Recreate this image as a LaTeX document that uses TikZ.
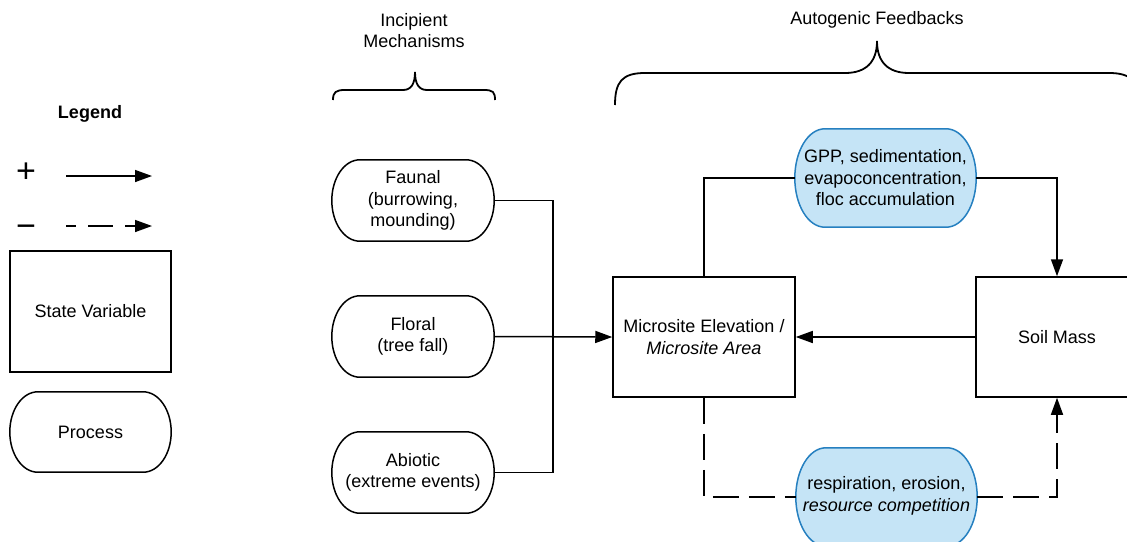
\documentclass[tikz,border=0pt]{standalone}
\usepackage{fontspec}
\setmainfont{Liberation Sans}
\usetikzlibrary{arrows.meta,calc}
\definecolor{procblue}{RGB}{197,228,246}
\definecolor{procedge}{RGB}{38,128,192}
\tikzset{
  txt/.style={font=\fontsize{18}{21.5}\selectfont, align=center, inner sep=0pt},
  statebox/.style={txt, draw, line width=1.5pt},
  procnode/.style={txt},
  conn/.style={line width=1.5pt},
  arr/.style={conn, -{Triangle[length=17pt,width=12pt]}},
  dashline/.style={dash pattern=on 26pt off 10pt},
  bracepath/.style={line width=1.8pt},
  signtxt/.style={txt, font=\fontsize{34}{34}\selectfont},
}
\newcommand\stadium[3]{%
 \draw[#3] ([xshift=#2]#1.north west) -- ([xshift=-#2]#1.north east)
  .. controls ($([xshift=-#2]#1.north east)!0.552!(#1.north east)$) and ($(#1.east)!0.552!(#1.north east)$) .. (#1.east)
  .. controls ($(#1.east)!0.552!(#1.south east)$) and ($([xshift=-#2]#1.south east)!0.552!(#1.south east)$) .. ([xshift=-#2]#1.south east)
  -- ([xshift=#2]#1.south west)
  .. controls ($([xshift=#2]#1.south west)!0.552!(#1.south west)$) and ($(#1.west)!0.552!(#1.south west)$) .. (#1.west)
  .. controls ($(#1.west)!0.552!(#1.north west)$) and ($([xshift=#2]#1.north west)!0.552!(#1.north west)$) .. ([xshift=#2]#1.north west) -- cycle;}
\newcommand\shapeonly[4]{% name, position, width, height
 \node[minimum width=#3, minimum height=#4, inner sep=0pt] (#1) at #2 {};}
\begin{document}
\begin{tikzpicture}[x=1pt,y=-1pt]
\useasboundingbox (0,0) rectangle (1127,541);
\clip (0,0) rectangle (1127,541);

% process outlines first (so text sits on top)
\shapeonly{prS}{(90.5,432)}{161pt}{80pt}
\shapeonly{faunalS}{(413,200.5)}{162pt}{81pt}
\shapeonly{floralS}{(413,336.5)}{162pt}{81pt}
\shapeonly{abioticS}{(413,472.5)}{162pt}{81pt}
\shapeonly{gppS}{(885.5,178)}{181pt}{98pt}
\shapeonly{respS}{(886.5,497)}{181pt}{98pt}
\stadium{prS}{28pt}{conn, fill=white}
\stadium{faunalS}{28pt}{conn, fill=white}
\stadium{floralS}{28pt}{conn, fill=white}
\stadium{abioticS}{28pt}{conn, fill=white}
\stadium{gppS}{30pt}{conn, fill=procblue, draw=procedge}
\stadium{respS}{30pt}{conn, fill=procblue, draw=procedge}

% legend
\node[txt, font=\fontsize{18}{21.5}\selectfont\bfseries] (legend) at (90,114) {Legend};
\node[signtxt] (plus) at (26,173) {+};
\node[signtxt] (minus) at (26,231) {−};
\coordinate (l1a) at (66,176);
\coordinate (l1b) at (152,176);
\coordinate (l2a) at (66,226);
\coordinate (l2b) at (152,226);
\draw[arr] (l1a) -- (l1b);
\draw[arr, dash pattern=on 10pt off 12pt on 25pt off 12pt on 30pt] (l2a) -- (l2b);
\node[statebox, minimum width=161pt, minimum height=121pt] (sv) at (90.5,311.5) {State Variable};
\node[procnode, minimum width=161pt, minimum height=80pt] (pr) at (90.5,432) {Process};

% headings
\node[txt] (inc) at (414,30.5) {Incipient\\Mechanisms};
\node[txt] (auto) at (877,20) {Autogenic Feedbacks};
\draw[bracepath] (333,100) .. controls (333,92) and (336,90) .. (345,90) -- (403,90) .. controls (411,90) and (415,84) .. (415,72) .. controls (415,84) and (419,90) .. (427,90) -- (484,90) .. controls (493,90) and (495,92) .. (495,100);
\draw[bracepath] (615,105) .. controls (615,82) and (622,73) .. (645,73) -- (845,73) .. controls (866,73) and (877,62) .. (877,41) .. controls (877,62) and (888,73) .. (909,73) -- (1109,73) .. controls (1132,73) and (1139,82) .. (1139,105);

% incipient mechanisms
\node[procnode, minimum width=162pt, minimum height=81pt] (faunal) at (413,200.5) {Faunal\\(burrowing,\\mounding)};
\node[procnode, minimum width=162pt, minimum height=81pt] (floral) at (413,336.5) {Floral\\(tree fall)};
\node[procnode, minimum width=162pt, minimum height=81pt] (abiotic) at (413,472.5) {Abiotic\\(extreme events)};

% state variables
\node[statebox, minimum width=182pt, minimum height=120pt] (micro) at (704,337) {Microsite Elevation /\\\itshape Microsite Area};
\node[statebox, minimum width=162pt, minimum height=120pt] (soil) at (1057,337) {Soil Mass};

% feedback processes
\node[procnode, minimum width=181pt, minimum height=98pt] (gpp) at (885.5,178) {GPP, sedimentation,\\evapoconcentration,\\floc accumulation};
\node[procnode, minimum width=181pt, minimum height=98pt] (resp) at (886.5,496) {respiration, erosion,\\\itshape resource competition};

% connectors
\coordinate (j) at (553,336.5);
\draw[conn] (faunal.east) -| (j);
\draw[conn] (abiotic.east) -| (j);
\draw[arr] (floral.east) -- (micro.west);
\draw[conn] (micro.north) |- (gpp.west);
\draw[arr] (gpp.east) -| (soil.north);
\draw[arr] (soil.west) -- (micro.east);
\draw[conn, dashline] (micro.south) |- (respS.west);
\draw[arr, dashline] (respS.east) -| (soil.south);
\end{tikzpicture}
\end{document}
